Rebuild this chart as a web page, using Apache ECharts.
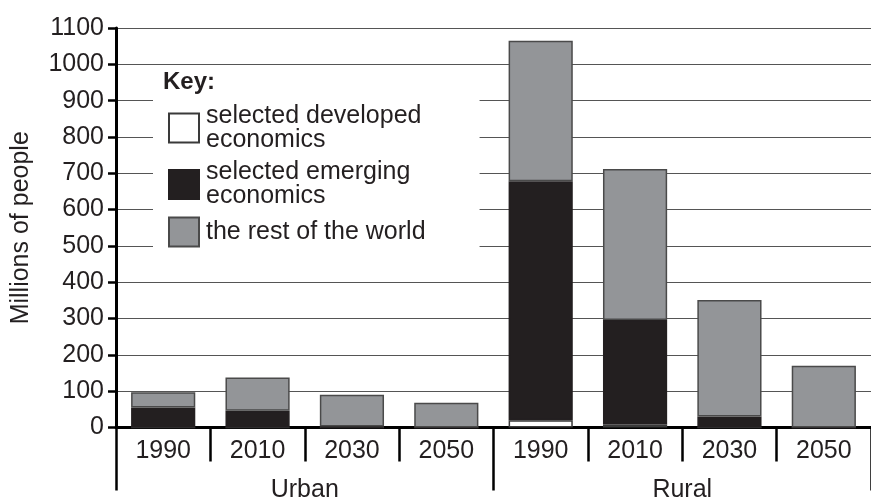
<!DOCTYPE html>
<html>
<head>
<meta charset="utf-8">
<script src="https://cdn.jsdelivr.net/npm/echarts@6/dist/echarts.min.js"></script>
<style>
html,body{margin:0;padding:0;background:#fff;}
#c{width:871px;height:502px;}
</style>
</head>
<body>
<div id="c"></div>
<script>
const years = ['1990','2010','2030','2050','1990','2010','2030','2050'];
const groups = ['Urban','Rural'];
const seriesNames = ['selected developed\neconomics','selected emerging\neconomics','the rest of the world'];
const developed = [0, 0, 0, 0, 20, 8, 0, 0];
const emerging  = [55, 46, 3, 0, 658, 288, 30, 0];
const rest      = [42, 92, 87, 68, 387, 416, 321, 170];
const yTicks = {min: 0, max: 1100, interval: 100};

const FONT = '"Liberation Sans", Arial, Helvetica, sans-serif';
const INK = '#231f20';
const chart = echarts.init(document.getElementById('c'), null, {renderer: 'canvas'});

const colors = ['#ffffff', INK, '#939598'];
const borders = ['#3a3a3a', INK, '#4a4a4a'];
const values = [developed, emerging, rest];

chart.setOption({
  animation: false,
  backgroundColor: '#ffffff',
  textStyle: {fontFamily: FONT, color: INK},
  grid: {left: 116, right: 0, top: 28, bottom: 74.5, containLabel: false, outerBoundsMode: 'none'},
  title: {
    text: 'Key:', left: 158, top: 65,
    textStyle: {fontFamily: FONT, fontSize: 24, fontWeight: 'bold', color: INK}
  },
  legend: {
    orient: 'vertical', left: 153, top: 68,
    padding: [35.5, 54, 6.5, 15],
    backgroundColor: '#ffffff',
    icon: 'rect',
    itemWidth: 30, itemHeight: 29, itemGap: 7.5,
    selectedMode: false,
    data: seriesNames,
    formatter: function (name) {
      return name.indexOf('\n') >= 0 ? '{a|' + name.split('\n').join('}\n{a|') + '}' : '{b|' + name + '}';
    },
    textStyle: {
      fontFamily: FONT, fontSize: 25, color: INK, padding: [0, 0, 0, 2],
      rich: {
        a: {fontFamily: FONT, fontSize: 25, lineHeight: 24, color: INK},
        b: {fontFamily: FONT, fontSize: 25, lineHeight: 48, color: INK}
      }
    }
  },
  xAxis: [
    {
      type: 'category', data: years, gridIndex: 0, position: 'bottom',
      axisLine: {show: true, lineStyle: {color: '#000', width: 3}},
      axisTick: {show: true, interval: 0, length: 34, lineStyle: {color: '#000', width: 2.5}},
      axisLabel: {interval: 0, margin: 11, fontFamily: FONT, fontSize: 25, color: INK},
      splitLine: {show: false}
    },
    {
      type: 'category', data: groups, gridIndex: 0, position: 'bottom',
      axisLine: {show: false},
      axisTick: {show: true, interval: 0, length: 63, lineStyle: {color: '#000', width: 2.5}},
      axisLabel: {interval: 0, margin: 50, fontFamily: FONT, fontSize: 25, color: INK},
      splitLine: {show: false}
    }
  ],
  yAxis: {
    type: 'value', min: yTicks.min, max: yTicks.max, interval: yTicks.interval,
    name: 'Millions of people', nameLocation: 'middle', nameGap: 82, nameRotate: 90,
    nameTextStyle: {fontFamily: FONT, fontSize: 25, color: INK},
    axisLine: {show: true, lineStyle: {color: '#000', width: 3}},
    axisTick: {show: true, length: 8, lineStyle: {color: '#000', width: 2.5}},
    axisLabel: {margin: 12, fontFamily: FONT, fontSize: 25, color: INK, formatter: function (v) { return String(v); }},
    splitLine: {show: true, lineStyle: {color: '#555', width: 1.2}}
  },
  series: seriesNames.map(function (n, i) {
    return {
      name: n, type: 'bar', stack: 'total', xAxisIndex: 0, barWidth: '68%',
      data: values[i],
      itemStyle: {color: colors[i], borderColor: borders[i], borderWidth: 1.5}
    };
  })
});
</script>
</body>
</html>
